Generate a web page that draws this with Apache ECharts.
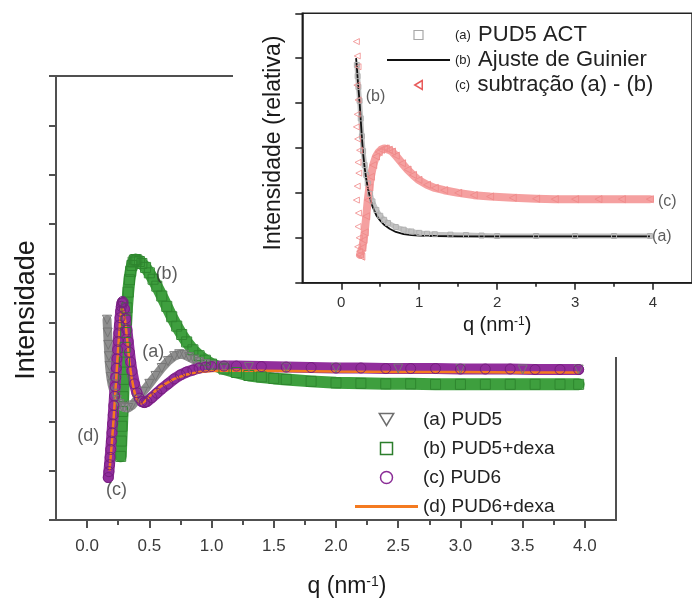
<!DOCTYPE html>
<html><head><meta charset="utf-8">
<script src="https://cdn.jsdelivr.net/npm/echarts@6/dist/echarts.min.js"></script>
<style>html,body{margin:0;padding:0;background:#fff}#c{width:692px;height:603px}</style>
</head><body><div id="c"></div>
<script>
// ---------- main chart data (q in nm^-1, intensity in arbitrary units) ----------
const pud5 = [[0.160,4.06],[0.165,3.80],[0.170,3.55],[0.175,3.32],[0.180,3.12],[0.190,2.90],[0.200,2.75],[0.220,2.56],[0.240,2.43],[0.260,2.35],[0.280,2.30],[0.300,2.28],[0.330,2.27],[0.360,2.32],[0.400,2.44],[0.450,2.60],[0.500,2.76],[0.550,2.92],[0.600,3.08],[0.650,3.22],[0.700,3.32],[0.740,3.36],[0.780,3.35],[0.820,3.30],[0.860,3.25],[0.900,3.20],[0.950,3.16],[1.000,3.13],[1.100,3.11],[1.300,3.10],[1.600,3.09],[2.000,3.08],[2.500,3.07],[3.000,3.06],[3.500,3.05],[3.950,3.05]];
const pud5Dexa = [[0.270,1.29],[0.275,1.60],[0.280,1.90],[0.285,2.20],[0.290,2.50],[0.295,2.85],[0.300,3.20],[0.305,3.50],[0.310,3.80],[0.315,4.05],[0.320,4.30],[0.330,4.62],[0.340,4.87],[0.350,5.04],[0.360,5.16],[0.370,5.23],[0.380,5.27],[0.390,5.28],[0.400,5.27],[0.420,5.24],[0.440,5.20],[0.470,5.12],[0.500,5.01],[0.530,4.88],[0.560,4.74],[0.600,4.54],[0.640,4.33],[0.680,4.12],[0.720,3.93],[0.760,3.76],[0.800,3.61],[0.850,3.45],[0.900,3.33],[0.950,3.24],[1.000,3.16],[1.100,3.06],[1.200,2.99],[1.300,2.93],[1.400,2.90],[1.500,2.87],[1.600,2.85],[1.800,2.81],[2.000,2.78],[2.200,2.77],[2.400,2.76],[2.600,2.76],[2.800,2.75],[3.000,2.75],[3.200,2.75],[3.400,2.75],[3.600,2.75],[3.800,2.75],[3.950,2.75]];
const pud6 = [[0.170,0.86],[0.175,0.98],[0.180,1.12],[0.185,1.27],[0.190,1.43],[0.195,1.60],[0.200,1.77],[0.205,1.95],[0.210,2.13],[0.215,2.32],[0.220,2.51],[0.225,2.70],[0.230,2.89],[0.235,3.08],[0.240,3.27],[0.245,3.45],[0.250,3.62],[0.255,3.79],[0.260,3.95],[0.265,4.10],[0.270,4.23],[0.275,4.33],[0.280,4.40],[0.285,4.43],[0.290,4.41],[0.300,4.28],[0.310,4.08],[0.320,3.85],[0.330,3.62],[0.340,3.40],[0.350,3.20],[0.360,3.02],[0.380,2.76],[0.400,2.58],[0.420,2.47],[0.440,2.40],[0.460,2.38],[0.480,2.40],[0.520,2.48],[0.560,2.57],[0.600,2.66],[0.650,2.76],[0.700,2.86],[0.750,2.94],[0.800,3.00],[0.850,3.04],[0.900,3.08],[0.950,3.10],[1.000,3.11],[1.100,3.12],[1.200,3.12],[1.400,3.11],[1.600,3.10],[1.800,3.09],[2.000,3.08],[2.200,3.08],[2.400,3.07],[2.600,3.07],[2.800,3.07],[3.000,3.06],[3.200,3.06],[3.400,3.06],[3.600,3.05],[3.800,3.05],[3.950,3.05]];
const pud6Dexa = [[0.180,1.00],[0.190,1.30],[0.200,1.60],[0.210,1.95],[0.220,2.32],[0.230,2.72],[0.240,3.12],[0.250,3.50],[0.260,3.86],[0.270,4.15],[0.280,4.30],[0.285,4.33],[0.290,4.30],[0.300,4.15],[0.310,3.94],[0.320,3.70],[0.330,3.45],[0.340,3.22],[0.350,3.02],[0.360,2.85],[0.380,2.60],[0.400,2.45],[0.420,2.38],[0.440,2.36],[0.460,2.40],[0.500,2.50],[0.550,2.62],[0.600,2.72],[0.700,2.86],[0.800,2.95],[0.900,3.00],[1.000,3.02],[1.200,3.03],[1.600,3.02],[2.000,3.01],[2.500,3.00],[3.000,3.00],[3.500,2.99],[3.950,2.99]];
const mainXTicks = [0,0.5,1,1.5,2,2.5,3,3.5,4];
const mainXMinor = [0.25,0.75,1.25,1.75,2.25,2.75,3.25,3.75];
const mainNotes = [[0.536,3.39,'(a)'],[0.643,4.97,'(b)'],[0.241,0.59,'(c)'],[0.014,1.70,'(d)']];

// ---------- inset data ----------
const pud5Act = [[0.200,4.85],[0.210,4.60],[0.220,4.36],[0.235,4.05],[0.250,3.66],[0.265,3.26],[0.280,2.93],[0.300,2.62],[0.320,2.40],[0.340,2.21],[0.370,1.98],[0.400,1.81],[0.450,1.62],[0.500,1.49],[0.550,1.40],[0.600,1.33],[0.700,1.24],[0.800,1.18],[0.900,1.14],[1.000,1.11],[1.100,1.09],[1.200,1.08],[1.400,1.07],[1.600,1.06],[1.800,1.05],[2.000,1.04],[2.500,1.04],[3.000,1.04],[3.500,1.04],[3.960,1.04]];
const guinier = [[0.190,5.00],[0.200,4.80],[0.210,4.56],[0.220,4.33],[0.235,4.02],[0.250,3.62],[0.265,3.22],[0.280,2.88],[0.300,2.56],[0.320,2.32],[0.340,2.12],[0.370,1.88],[0.400,1.70],[0.450,1.50],[0.500,1.38],[0.550,1.29],[0.620,1.20],[0.700,1.13],[0.800,1.08],[0.900,1.06],[1.000,1.05],[1.200,1.04],[1.500,1.03],[2.000,1.03],[3.000,1.03],[3.960,1.03]];
const subNoise = [[0.194,5.37],[0.205,5.05],[0.215,4.81],[0.200,4.40],[0.215,4.07],[0.205,3.75],[0.194,3.47],[0.210,3.20],[0.235,2.95],[0.215,2.68],[0.225,2.44],[0.205,2.15],[0.194,1.84],[0.220,1.55],[0.215,1.25],[0.230,1.00],[0.210,0.80],[0.235,0.70]];
const subCurve = [[0.240,0.62],[0.257,0.58],[0.270,0.78],[0.285,0.95],[0.300,1.12],[0.320,1.48],[0.340,1.84],[0.360,2.12],[0.380,2.36],[0.410,2.62],[0.445,2.81],[0.480,2.91],[0.510,2.96],[0.550,2.99],[0.570,2.99],[0.610,2.96],[0.650,2.92],[0.700,2.83],[0.780,2.66],[0.850,2.52],[0.920,2.40],[0.990,2.29],[1.100,2.18],[1.200,2.11],[1.320,2.06],[1.500,2.00],[1.700,1.95],[1.910,1.92],[2.200,1.89],[2.500,1.87],[2.740,1.86],[3.000,1.86],[3.300,1.86],[3.600,1.86],[3.960,1.86]];
const insetXTicks = [0,1,2,3,4];
const insetXMinor = [0.5,1.5,2.5,3.5];
const insetNotes = [[0.445,4.14,'(b)'],[4.19,1.80,'(c)'],[4.12,1.02,'(a)']];

const FONT = '"Liberation Sans", Arial, Helvetica, sans-serif';
const AX = '#505050';
const INK = '#1a1a1a';
const SQUARE = 'path://M0,0L10,0L10,10L0,10Z';
const TRI_DOWN = 'path://M0,0L12,0L6,10Z';
const TRI_LEFT = 'path://M10,0L0,6L10,12Z';
const BAR = 'path://M0,0L63,0L63,3L0,3Z';
const THIN_BAR = 'path://M0,0L63,0L63,2L0,2Z';

const chart = echarts.init(document.getElementById('c'), null, {renderer: 'canvas'});

function bandSeries(name, data, band, width, edge, symbol, size, rot, xi, yi, z) {
  return {
    name: name, type: 'line', data: data, xAxisIndex: xi, yAxisIndex: yi, z: z,
    lineStyle: {color: band, width: width, cap: 'round', join: 'round'},
    symbol: symbol, symbolSize: size, symbolRotate: rot, showSymbol: true, showAllSymbol: true,
    itemStyle: {color: 'rgba(255,255,255,0)', borderColor: edge, borderWidth: 1},
    emphasis: {disabled: true}, silent: true
  };
}

const option = {
  animation: false,
  backgroundColor: '#fff',
  textStyle: {fontFamily: FONT},
  grid: [
    {left: 56, right: 76, top: 76, bottom: 82.3, show: true, borderColor: AX, borderWidth: 2, z: 0},
    {left: 302.3, top: 13.3, width: 399, height: 269.4, show: true, borderColor: '#222', borderWidth: 1.5, backgroundColor: '#fff', z: 6}
  ],
  xAxis: [
    {gridIndex: 0, type: 'value', min: -0.25, max: 4.25, position: 'bottom',
     axisLine: {onZero: false, lineStyle: {color: AX, width: 2}},
     axisTick: {customValues: mainXTicks, length: 8, lineStyle: {color: AX, width: 2}},
     axisLabel: {customValues: mainXTicks, formatter: v => v.toFixed(1), fontSize: 17, color: '#3a3a3a', margin: 18, fontFamily: FONT},
     splitLine: {show: false},
     name: '{n|q (nm}{s|-1}{n|)}', nameLocation: 'middle', nameGap: 55,
     nameTextStyle: {color: INK, padding: [0, 0, 0, 22], rich: {n: {fontSize: 23, fontFamily: FONT, color: INK}, s: {fontSize: 14, fontFamily: FONT, color: INK, verticalAlign: 'top'}}}},
    {gridIndex: 0, type: 'value', min: -0.25, max: 4.25, position: 'bottom',
     axisLine: {show: false, onZero: false},
     axisTick: {customValues: mainXMinor, length: 5, lineStyle: {color: AX, width: 2}},
     axisLabel: {show: false}, splitLine: {show: false}},
    {gridIndex: 1, type: 'value', min: -0.5, max: 4.5, position: 'bottom', z: 7,
     axisLine: {onZero: false, lineStyle: {color: INK, width: 1.5}},
     axisTick: {customValues: insetXTicks, length: 7, lineStyle: {color: INK, width: 1.5}},
     axisLabel: {customValues: insetXTicks, fontSize: 15, color: '#333', margin: 13, fontFamily: FONT},
     splitLine: {show: false},
     name: '{n|q (nm}{s|-1}{n|)}', nameLocation: 'middle', nameGap: 33,
     nameTextStyle: {color: INK, rich: {n: {fontSize: 20, fontFamily: FONT, color: INK}, s: {fontSize: 12, fontFamily: FONT, color: INK, verticalAlign: 'top'}}}},
    {gridIndex: 1, type: 'value', min: -0.5, max: 4.5, position: 'bottom', z: 7,
     axisLine: {show: false, onZero: false},
     axisTick: {customValues: insetXMinor, length: 4, lineStyle: {color: INK, width: 1.5}},
     axisLabel: {show: false}, splitLine: {show: false}}
  ],
  yAxis: [
    {gridIndex: 0, type: 'value', min: 0, max: 9, interval: 1,
     axisLine: {onZero: false, lineStyle: {color: AX, width: 2}},
     axisTick: {length: 7, lineStyle: {color: AX, width: 2}},
     axisLabel: {show: false}, splitLine: {show: false},
     name: 'Intensidade', nameLocation: 'middle', nameGap: 16,
     nameTextStyle: {fontSize: 27, color: INK, fontFamily: FONT, padding: [0, 24, 0, 0]}},
    {gridIndex: 1, type: 'value', min: 0, max: 6, interval: 1, z: 7,
     axisLine: {onZero: false, lineStyle: {color: INK, width: 1.5}},
     axisTick: {length: 7, lineStyle: {color: INK, width: 1.5}},
     axisLabel: {show: false}, splitLine: {show: false},
     name: 'Intensidade (relativa)', nameLocation: 'middle', nameGap: 17,
     nameTextStyle: {fontSize: 23, color: INK, fontFamily: FONT, padding: [0, 0, 0, 10]}}
  ],
  graphic: {elements: [
    {type: 'rect', shape: {x: 233, y: 0, width: 459, height: 357}, style: {fill: '#fff'}, z: 5, silent: true}
  ]},
  legend: [
    {orient: 'vertical', left: 350, top: 405, itemWidth: 63, itemHeight: 12, itemGap: 10, selectedMode: false, z: 4,
     textStyle: {fontSize: 19, color: '#222', fontFamily: FONT},
     data: [
       {name: '(a) PUD5', icon: TRI_DOWN, itemStyle: {color: '#fff', borderColor: '#6e6e6e', borderWidth: 1.5}},
       {name: '(b) PUD5+dexa', icon: SQUARE, itemStyle: {color: '#fff', borderColor: '#2c7e2c', borderWidth: 1.5}},
       {name: '(c) PUD6', icon: 'circle', itemStyle: {color: '#fff', borderColor: '#8a2c96', borderWidth: 1.5}},
       {name: '(d) PUD6+dexa', icon: BAR, itemStyle: {color: '#f47a20', borderWidth: 0}}
     ]},
    {orient: 'vertical', left: 382, top: 19, itemWidth: 63, itemHeight: 9, itemGap: 3, selectedMode: false, z: 9,
     textStyle: {fontSize: 13, color: '#222', fontFamily: FONT,
       rich: {s: {fontSize: 13, color: '#222', fontFamily: FONT}, b: {fontSize: 22, color: '#222', fontFamily: FONT}}},
     formatter: function (name) {
       const m = name.match(/^(\(\w\))\s*(.*)$/);
       return '{s|' + m[1] + '}  {b|' + m[2] + '}';
     },
     data: [
       {name: '(a) PUD5 ACT', icon: SQUARE, itemStyle: {color: '#fff', borderColor: '#a8a8a8', borderWidth: 1.2}},
       {name: '(b) Ajuste de Guinier', icon: THIN_BAR, itemStyle: {color: '#111', borderWidth: 0}},
       {name: '(c) subtração (a) - (b)', icon: TRI_LEFT, itemStyle: {color: '#fff', borderColor: '#e85a5a', borderWidth: 1.5}}
     ]}
  ],
  series: [
    bandSeries('(b) PUD5+dexa', pud5Dexa, '#3e9f3e', 12, '#2f862f', 'rect', 10, 0, 0, 0, 2),
    bandSeries('(a) PUD5', pud5, '#8e8e8e', 9, '#767676', TRI_DOWN, 9, 0, 0, 0, 2),
    bandSeries('(c) PUD6', pud6, '#912e9c', 11, '#76207f', 'circle', 10, 0, 0, 0, 2),
    {name: '(d) PUD6+dexa', type: 'line', data: pud6Dexa, xAxisIndex: 0, yAxisIndex: 0, z: 2,
     symbol: 'none', lineStyle: {color: '#f47a20', width: 2.5}, emphasis: {disabled: true}, silent: true},
    {name: 'main-notes', type: 'scatter', xAxisIndex: 0, yAxisIndex: 0, z: 3, silent: true,
     data: mainNotes, symbolSize: 1, itemStyle: {color: 'rgba(0,0,0,0)'},
     label: {show: true, position: [0, 0], align: 'center', verticalAlign: 'middle', formatter: p => p.data[2], fontSize: 18, color: '#333', fontFamily: FONT}},

    bandSeries('(a) PUD5 ACT', pud5Act, '#c2c2c2', 5, '#b0b0b0', 'rect', 5, 0, 2, 1, 8),
    bandSeries('(c) subtração (a) - (b)', subCurve, '#f5a0a0', 8, '#f08c8c', 'triangle', 7, 90, 2, 1, 8),
    {name: '(c) subtração (a) - (b)', type: 'scatter', data: subNoise, xAxisIndex: 2, yAxisIndex: 1, z: 8, silent: true,
     symbol: 'triangle', symbolRotate: 90, symbolSize: 6,
     itemStyle: {color: 'rgba(255,255,255,0)', borderColor: '#f08a8a', borderWidth: 1}},
    {name: '(b) Ajuste de Guinier', type: 'line', data: guinier, xAxisIndex: 2, yAxisIndex: 1, z: 8,
     symbol: 'none', lineStyle: {color: '#111', width: 1.8}, emphasis: {disabled: true}, silent: true},
    {name: 'inset-notes', type: 'scatter', xAxisIndex: 2, yAxisIndex: 1, z: 9, silent: true,
     data: insetNotes, symbolSize: 1, itemStyle: {color: 'rgba(0,0,0,0)'},
     label: {show: true, position: [0, 0], align: 'center', verticalAlign: 'middle', formatter: p => p.data[2], fontSize: 16, color: '#333', fontFamily: FONT}}
  ]
};
chart.setOption(option);
</script>
</body></html>
